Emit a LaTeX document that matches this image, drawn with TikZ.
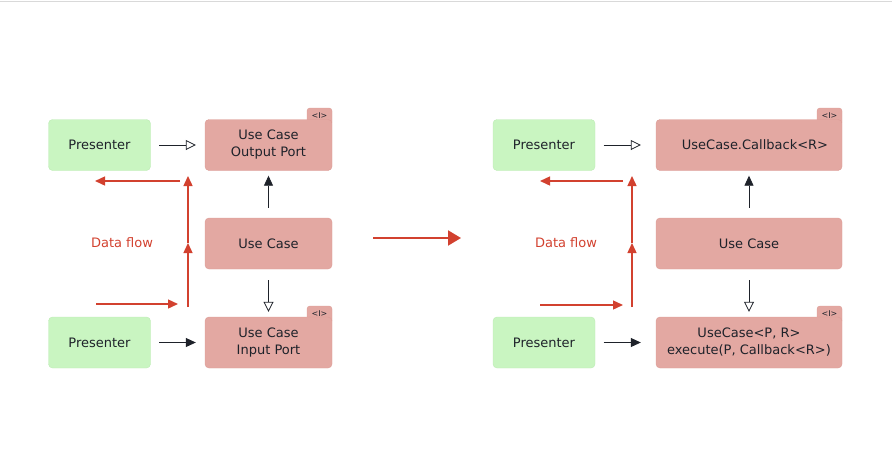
\documentclass[tikz,border=0pt]{standalone}
\usepackage{fontspec}
\setmainfont{DejaVu Sans}
\usetikzlibrary{arrows.meta}
\definecolor{grn}{HTML}{C9F5C1}
\definecolor{grnd}{HTML}{BDEBB5}
\definecolor{rbox}{HTML}{E3A8A2}
\definecolor{rboxd}{HTML}{DC9C96}
\definecolor{rflow}{HTML}{D2412F}
\definecolor{ink}{HTML}{1E222A}
\tikzset{
  pres/.style={draw=grnd, fill=grn, rounded corners=4pt, minimum width=102pt, minimum height=51pt, inner sep=0pt, font=\fontsize{13}{17}\selectfont, text=ink},
  ucbox/.style={draw=rboxd, fill=rbox, rounded corners=4pt, minimum height=51pt, inner sep=0pt, align=center, font=\fontsize{13}{17}\selectfont, text=ink},
  tabtxt/.style={font=\fontsize{8}{8}\selectfont, text=ink, inner sep=0pt},
  openarr/.style={draw=ink, line width=0.8pt, -{Triangle[open, length=10pt, width=10pt]}},
  fillarr/.style={draw=ink, line width=0.8pt, -{Triangle[length=10pt, width=9pt]}},
  redarr/.style={draw=rflow, line width=1.4pt, -{Triangle[length=10pt, width=9pt]}},
  flowlbl/.style={text=rflow, font=\fontsize{13}{17}\selectfont, inner sep=0pt},
}
\newcommand{\ifacetab}[2]{% #1 = right x, #2 = top y of box
  \fill[rbox, draw=rboxd, rounded corners=3pt] (#1-25,#2+4) -- (#1-25,#2-11) -- (#1,#2-11) -- (#1,#2+4);
  \node[tabtxt] at (#1-12.5,#2-3.5) {<I>};
}
\begin{document}
\begin{tikzpicture}[x=1pt,y=-1pt]
\useasboundingbox (0,0) rectangle (892,472);
\draw[draw=black!15, line width=1pt] (0,1) -- (892,1);

% ---------- left diagram ----------
\ifacetab{332}{119}
\ifacetab{332}{317}
\node[pres] (pt1) at (99.5,145) {Presenter};
\node[ucbox, minimum width=127pt] (op1) at (268.5,145) {Use Case\\Output Port};
\node[ucbox, minimum width=127pt] (uc1) at (268.5,243.5) {Use Case};
\node[ucbox, minimum width=127pt] (ip1) at (268.5,342.5) {Use Case\\Input Port};
\node[pres] (pb1) at (99.5,342.5) {Presenter};
\node[flowlbl] (df1) at (122,243) {Data flow};

\draw[openarr] ([xshift=8.5pt]pt1.east) -- ([xshift=-9pt]op1.west);
\draw[fillarr] ([yshift=10pt]uc1.north) -- ([yshift=-5pt]op1.south);
\draw[openarr] ([yshift=-11pt]uc1.south) -- ([yshift=5pt]ip1.north);
\draw[fillarr] ([xshift=8.5pt]pb1.east) -- ([xshift=-9pt]ip1.west);

\coordinate (a1) at (96,304);
\coordinate (b1) at (178,304);
\coordinate (c1) at (188,307);
\coordinate (d1) at (188,243);
\coordinate (e1) at (188,176);
\coordinate (f1) at (180,181);
\coordinate (g1) at (95,181);
\draw[redarr] (a1) -- (b1);
\draw[redarr] (c1) -- (d1);
\draw[redarr] (d1) -- (e1);
\draw[redarr] (f1) -- (g1);

% ---------- middle arrow ----------
\coordinate (m1) at (373,238);
\coordinate (m2) at (461,238);
\draw[draw=rflow, line width=2pt, -{Triangle[length=13pt, width=15pt]}] (m1) -- (m2);

% ---------- right diagram ----------
\ifacetab{842}{119}
\ifacetab{842}{317}
\node[pres] (pt2) at (544,145) {Presenter};
\node[ucbox, minimum width=186pt] (cb2) at (749,145) {\hspace*{12pt}UseCase.Callback<R>};
\node[ucbox, minimum width=186pt] (uc2) at (749,243.5) {Use Case};
\node[ucbox, minimum width=186pt] (ex2) at (749,342.5) {UseCase<P, R>\\execute(P, Callback<R>)};
\node[pres] (pb2) at (544,342.5) {Presenter};
\node[flowlbl] (df2) at (566,243) {Data flow};

\draw[openarr] ([xshift=8.5pt]pt2.east) -- ([xshift=-15pt]cb2.west);
\draw[fillarr] ([yshift=10pt]uc2.north) -- ([yshift=-5pt]cb2.south);
\draw[openarr] ([yshift=-11pt]uc2.south) -- ([yshift=5pt]ex2.north);
\draw[fillarr] ([xshift=8.5pt]pb2.east) -- ([xshift=-15pt]ex2.west);

\coordinate (a2) at (540,305);
\coordinate (b2) at (623,305);
\coordinate (c2) at (632,307);
\coordinate (d2) at (632,243);
\coordinate (e2) at (632,176);
\coordinate (f2) at (623,181);
\coordinate (g2) at (540,181);
\draw[redarr] (a2) -- (b2);
\draw[redarr] (c2) -- (d2);
\draw[redarr] (d2) -- (e2);
\draw[redarr] (f2) -- (g2);
\end{tikzpicture}
\end{document}
